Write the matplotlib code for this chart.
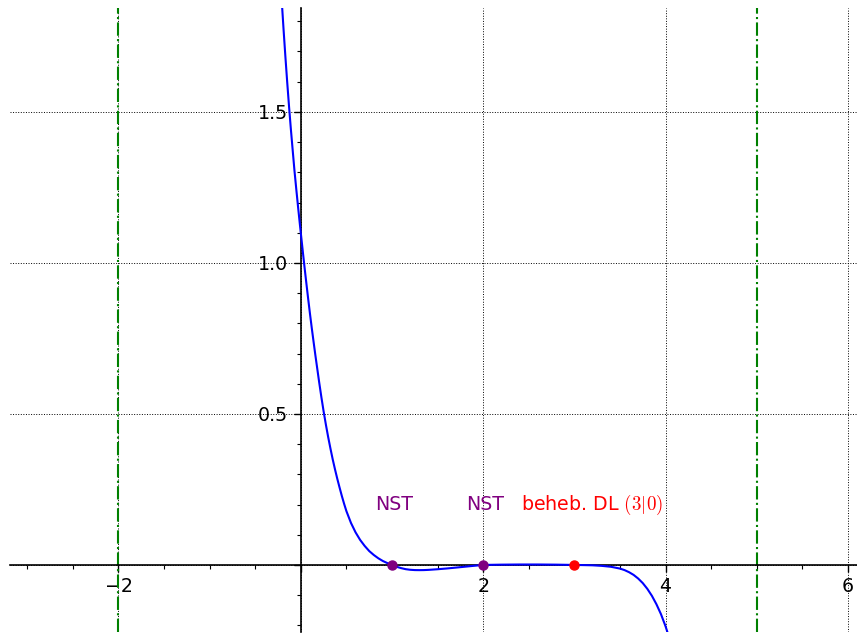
import matplotlib
matplotlib.use('Agg')
import matplotlib.pyplot as plt
from matplotlib.ticker import MultipleLocator, FuncFormatter

# curve values
x_curve = [-0.21, -0.19, -0.17, -0.15, -0.13, -0.11, -0.09, -0.07, -0.05, -0.03,
           -0.01, 0.0, 0.02, 0.04, 0.06, 0.08, 0.10, 0.12, 0.14, 0.16,
           0.18, 0.20, 0.225, 0.25, 0.275, 0.30, 0.325, 0.35, 0.375, 0.40,
           0.425, 0.45, 0.475, 0.50, 0.55, 0.60, 0.65, 0.70, 0.75, 0.80,
           0.85, 0.90, 0.95, 1.00, 1.05, 1.10, 1.15, 1.20, 1.25, 1.30,
           1.35, 1.40, 1.50, 1.60, 1.70, 1.80, 1.90, 2.00, 2.20, 2.40,
           2.60, 2.80, 3.00, 3.10, 3.20, 3.30, 3.40, 3.50, 3.55, 3.60,
           3.65, 3.70, 3.75, 3.80, 3.85, 3.90, 3.95, 4.00, 4.05]
y_curve = [1.87, 1.775, 1.685, 1.60, 1.52, 1.445, 1.375, 1.306, 1.244, 1.184,
           1.126, 1.098, 1.042, 0.987, 0.934, 0.882, 0.832, 0.784, 0.738, 0.693,
           0.650, 0.607, 0.556, 0.508, 0.464, 0.423, 0.385, 0.349, 0.316, 0.285,
           0.256, 0.228, 0.202, 0.178, 0.139, 0.108, 0.083, 0.063, 0.046, 0.033,
           0.022, 0.013, 0.006, 0.0, -0.006, -0.0105, -0.014, -0.016, -0.017, -0.0172,
           -0.017, -0.0163, -0.0142, -0.0117, -0.0088, -0.0058, -0.0028, 0.0, 0.001, 0.0015,
           0.0015, 0.001, 0.0, -0.0005, -0.0012, -0.003, -0.006, -0.012, -0.017, -0.024,
           -0.033, -0.045, -0.06, -0.079, -0.102, -0.13, -0.163, -0.203, -0.25]

asymptotes = [-2, 5]
zeros_x = [1, 2]
hole = (3, 0)
label_y = 0.2

plt.rcParams['mathtext.fontset'] = 'cm'

fig = plt.figure(figsize=(8.57, 6.34), dpi=100)
ax = fig.add_axes([10/857, 2/634, 847/857, 624/634])

ax.set_xlim(-3.19, 6.10)
ax.set_ylim(-0.222, 1.844)

for a in asymptotes:
    ax.axvline(a, color='#008000', linestyle='-.', linewidth=1.5, zorder=2)

ax.plot(x_curve, y_curve, color='blue', linewidth=1.5, zorder=3)
ax.plot(zeros_x, [0] * len(zeros_x), 'o', color='purple', markersize=6.5, zorder=4)
ax.plot([hole[0]], [hole[1]], 'o', color='red', markersize=6.5, zorder=4)

for z in zeros_x:
    ax.text(z + 0.02, label_y, 'NST', color='purple', fontsize=13.7,
            ha='center', va='center')
ax.text(3.19, label_y, r'beheb. DL $(3|0)$', color='red', fontsize=13.7,
        ha='center', va='center')

# axes through the origin, sage style
for s in ['top', 'right']:
    ax.spines[s].set_visible(False)
ax.spines['left'].set_position(('data', 0))
ax.spines['bottom'].set_position(('data', 0))
ax.spines['left'].set_linewidth(1.2)
ax.spines['bottom'].set_linewidth(1.2)

ax.xaxis.set_major_locator(MultipleLocator(2))
ax.xaxis.set_minor_locator(MultipleLocator(0.5))
ax.yaxis.set_major_locator(MultipleLocator(0.5))
ax.yaxis.set_minor_locator(MultipleLocator(0.1))

def fmt_x(v, pos):
    if abs(v) < 1e-9:
        return ''
    return '%d' % v if v >= 0 else '\u2212%d' % abs(v)

def fmt_y(v, pos):
    if abs(v) < 1e-9:
        return ''
    return '%.1f' % v

ax.xaxis.set_major_formatter(FuncFormatter(fmt_x))
ax.yaxis.set_major_formatter(FuncFormatter(fmt_y))
ax.tick_params(which='major', length=5, width=1, labelsize=13.7, pad=4)
ax.tick_params(which='minor', length=3, width=0.8)

ax.grid(True, which='major', color='black', linestyle=':', linewidth=0.7, zorder=0)
ax.set_axisbelow(True)

fig.savefig('out.png', dpi=100)
